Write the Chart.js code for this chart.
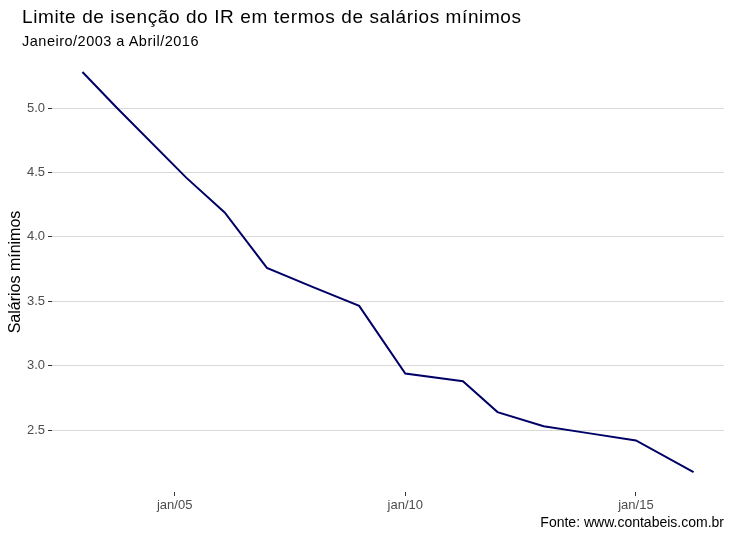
<!DOCTYPE html>
<html>
<head>
<meta charset="utf-8">
<script src="https://cdn.jsdelivr.net/npm/chart.js@4.4.1/dist/chart.umd.min.js"></script>
<style>
  body { margin: 0; background: #fff; font-family: "Liberation Sans", Arial, sans-serif; }
  #wrap { position: relative; width: 732px; height: 535px; }
  #chart { position: absolute; left: 0; top: 0; }
  .title { position: absolute; left: 22px; top: 6px; font-size: 19px; letter-spacing: 0.6px; color: #000; }
  .subtitle { position: absolute; left: 22px; top: 33px; font-size: 14.5px; letter-spacing: 0.5px; color: #000; }
  .caption { position: absolute; right: 8px; top: 514px; font-size: 14px; color: #000; }
</style>
</head>
<body>
<div id="wrap">
  <canvas id="chart" width="732" height="535"></canvas>
  <div class="title">Limite de isenção do IR em termos de salários mínimos</div>
  <div class="subtitle">Janeiro/2003 a Abril/2016</div>
  <div class="caption">Fonte: www.contabeis.com.br</div>
</div>
<script>
// months (yyyy-mm) and limit expressed in minimum wages
const months = ['2003-01', '2003-10', '2005-04', '2006-02', '2007-01', '2008-01', '2009-01',
                '2010-01', '2011-04', '2012-01', '2013-01', '2014-01', '2015-01', '2016-04'];
const salarios = [5.28, 5.00, 4.46, 4.19, 3.76, 3.61, 3.465,
                  2.94, 2.88, 2.64, 2.53, 2.475, 2.42, 2.175];
const xTicks = [2005, 2010, 2015];
const yTicks = [2.5, 3.0, 3.5, 4.0, 4.5, 5.0];

function toYear(m) {
    const [y, mo] = m.split('-').map(Number);
    return y + (mo - 1) / 12;
}

const points = months.map((m, i) => ({ x: toYear(m), y: salarios[i] }));

new Chart(document.getElementById('chart'), {
    type: 'line',
    data: {
        datasets: [{
            data: points,
            borderColor: '#000066',
            borderWidth: 2,
            pointRadius: 0,
            tension: 0,
            fill: false
        }]
    },
    options: {
        responsive: false,
        animation: false,
        layout: { padding: { top: 52, right: 8, left: 0, bottom: 0 } },
        plugins: { legend: { display: false }, tooltip: { enabled: false } },
        scales: {
            x: {
                type: 'linear',
                min: 2002.34,
                max: 2016.91,
                afterBuildTicks: s => { s.ticks = xTicks.map(v => ({ value: v })); },
                afterFit: s => { s.height = 43; },
                ticks: {
                    color: '#4d4d4d',
                    font: { family: '"Liberation Sans", Arial', size: 13 },
                    padding: 2,
                    maxRotation: 0,
                    callback: v => 'jan/' + String(v).slice(2)
                },
                grid: { drawOnChartArea: false, tickLength: 4, tickColor: '#333', tickWidth: 1 },
                border: { display: false }
            },
            y: {
                min: 2.02,
                max: 5.435,
                afterBuildTicks: s => { s.ticks = yTicks.map(v => ({ value: v })); },
                afterFit: s => { s.width = 52; },
                ticks: {
                    color: '#4d4d4d',
                    font: { family: '"Liberation Sans", Arial', size: 13 },
                    padding: 3,
                    callback: v => v.toFixed(1)
                },
                grid: { color: '#d9d9d9', lineWidth: 1, tickLength: 4, tickColor: '#333' },
                border: { display: false },
                title: {
                    display: true,
                    text: 'Salários mínimos',
                    color: '#000',
                    font: { family: '"Liberation Sans", Arial', size: 16 },
                    padding: { top: 6, bottom: 0 }
                }
            }
        }
    }
});
</script>
</body>
</html>
